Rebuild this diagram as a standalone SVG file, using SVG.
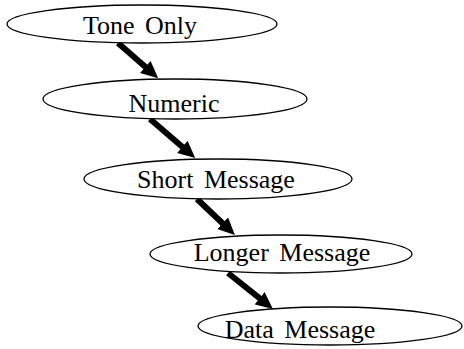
<svg xmlns="http://www.w3.org/2000/svg" width="464" height="349" viewBox="0 0 464 349">
  <style>
    .node ellipse { fill: #ffffff; stroke: #000000; stroke-width: 1.3; }
    .node text { font-family: "Liberation Serif", "Times New Roman", serif; font-size: 26px; word-spacing: 4px; fill: #000000; text-anchor: middle; }
    .edge { stroke: #000000; stroke-width: 6; fill: none; marker-end: url(#arrow); }
  </style>
  <defs>
    <marker id="arrow" viewBox="0 0 17 16" refX="1" refY="8" markerWidth="17" markerHeight="16" markerUnits="userSpaceOnUse" orient="auto">
      <path d="M0,0 L17,8 L0,16 z" fill="#000000"/>
    </marker>
  </defs>
  <rect width="464" height="349" fill="#ffffff"/>
  <g id="connectors">
    <path class="edge" d="M118,43 L146.1,67.6"/>
    <path class="edge" d="M150,119 L183.1,147.5"/>
    <path class="edge" d="M197,199 L223.3,224"/>
    <path class="edge" d="M228,273 L260.4,298.9"/>
  </g>
  <g id="tone-only" class="node">
    <ellipse cx="142" cy="24" rx="135" ry="19"/>
    <text x="140" y="34">Tone Only</text>
  </g>
  <g id="numeric" class="node">
    <ellipse cx="175" cy="99" rx="132" ry="20"/>
    <text x="174" y="112">Numeric</text>
  </g>
  <g id="short-message" class="node">
    <ellipse cx="218" cy="179" rx="134" ry="20"/>
    <text x="216" y="188">Short Message</text>
  </g>
  <g id="longer-message" class="node">
    <ellipse cx="281" cy="254" rx="131" ry="19"/>
    <text x="282" y="261">Longer Message</text>
  </g>
  <g id="data-message" class="node">
    <ellipse cx="330" cy="326" rx="132" ry="19"/>
    <text x="300" y="338">Data Message</text>
  </g>
</svg>
